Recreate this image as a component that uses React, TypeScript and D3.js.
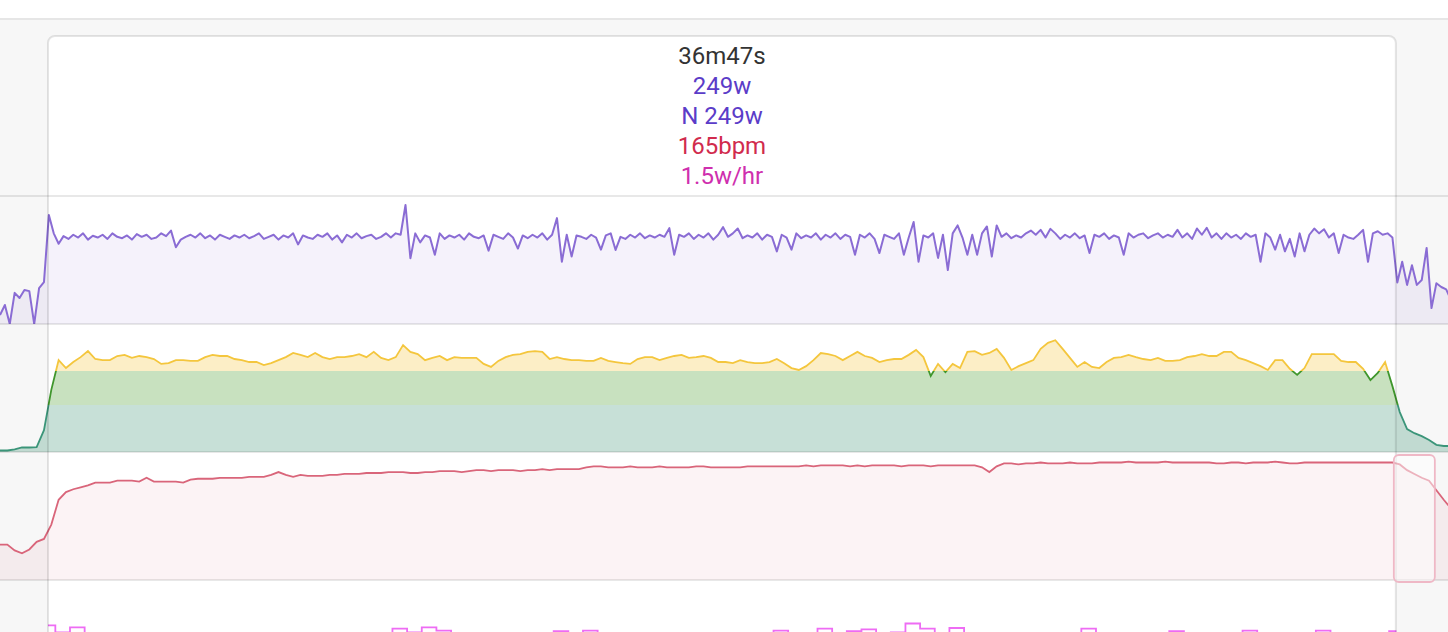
import React from "react";
import * as d3 from "d3";

const W = 1448;
const H = 632;

// time base (seconds)
const TOTAL_SECONDS = 2371;
const SEL_START = 78.6;
const SEL_DURATION = 2207; // 36m47s
const POWER_STEP = 8;
const ZONE_STEP = 12;
const HR_STEP = 12;
const DRIFT_STEP = 24;

// header
const headerLines = ["36m47s", "249w", "N 249w", "165bpm", "1.5w/hr"];
const headerColors = ["#333333", "#5b3cc8", "#5b3cc8", "#d12b4d", "#cf2fae"];

// power (w), every 8s
const powerValues = [
  26, 55, 0, 90, 75, 98, 95, 0, 104, 121,
  315, 262, 232, 254, 246, 258, 250, 262, 244, 255,
  250, 258, 246, 262, 252, 248, 256, 244, 260, 252,
  258, 246, 250, 262, 254, 270, 222, 244, 252, 258,
  250, 262, 248, 256, 244, 258, 252, 246, 256, 250,
  258, 248, 254, 262, 246, 252, 258, 244, 256, 250,
  262, 230, 256, 250, 246, 258, 252, 262, 244, 256,
  236, 258, 250, 262, 248, 254, 258, 246, 252, 262,
  250, 262, 258, 344, 190, 262, 236, 256, 250, 200,
  262, 246, 256, 250, 258, 244, 262, 252, 248, 256,
  212, 258, 252, 246, 262, 250, 218, 256, 248, 258,
  250, 262, 244, 258, 306, 180, 258, 195, 256, 252,
  246, 258, 250, 215, 256, 262, 214, 252, 246, 258,
  250, 262, 248, 256, 250, 258, 252, 277, 200, 258,
  252, 262, 246, 258, 250, 262, 244, 258, 280, 252,
  262, 276, 248, 256, 250, 262, 244, 258, 252, 210,
  258, 250, 215, 262, 248, 256, 250, 262, 244, 258,
  250, 262, 246, 258, 252, 200, 258, 250, 262, 246,
  205, 258, 252, 246, 262, 200, 250, 295, 180, 256,
  250, 262, 191, 258, 156, 262, 285, 250, 200, 258,
  200, 262, 282, 195, 285, 252, 262, 248, 256, 250,
  262, 270, 258, 272, 250, 275, 262, 246, 258, 250,
  262, 248, 256, 205, 258, 252, 262, 246, 256, 250,
  200, 262, 250, 258, 262, 248, 256, 262, 250, 258,
  252, 272, 250, 262, 246, 276, 258, 278, 250, 262,
  246, 262, 250, 258, 246, 262, 252, 258, 180, 262,
  250, 215, 258, 210, 246, 195, 262, 210, 258, 276,
  262, 274, 250, 262, 205, 258, 250, 246, 258, 272,
  180, 262, 268, 258, 262, 250, 120, 180, 113, 170,
  113, 127, 220, 46, 118, 107, 100, 69,
];

// smoothed power (w), every 12s
const zoneValues = [
  4, 4, 7, 12, 12, 13, 58, 165, 244, 223,
  239, 252, 268, 247, 244, 244, 255, 258, 250, 255,
  252, 247, 234, 236, 244, 244, 242, 242, 252, 258,
  255, 255, 247, 244, 239, 239, 231, 236, 244, 252,
  263, 258, 252, 263, 252, 247, 252, 252, 255, 260,
  252, 266, 250, 244, 252, 284, 266, 260, 244, 250,
  255, 244, 252, 250, 250, 250, 234, 226, 242, 252,
  258, 260, 266, 268, 266, 247, 252, 247, 244, 244,
  242, 242, 250, 242, 239, 236, 234, 247, 252, 252,
  244, 250, 255, 258, 250, 252, 255, 250, 239, 239,
  236, 244, 239, 236, 236, 239, 247, 236, 223, 218,
  228, 244, 263, 260, 255, 244, 255, 266, 255, 250,
  239, 244, 247, 247, 258, 271, 252, 202, 234, 212,
  234, 223, 266, 268, 258, 263, 274, 250, 218, 228,
  236, 244, 274, 290, 297, 274, 250, 226, 239, 226,
  223, 239, 250, 252, 258, 252, 247, 244, 250, 242,
  242, 244, 252, 255, 260, 255, 255, 266, 266, 250,
  244, 236, 228, 218, 244, 244, 221, 205, 223, 260,
  260, 260, 260, 242, 239, 239, 221, 191, 210, 239,
  175, 106, 61, 50, 42, 32, 19, 16, 16,
];
const zoneThresholds = [215, 125];

// heart rate (bpm), every 12s
const hrValues = [
  87, 87, 81, 78, 82, 90, 93, 108, 134, 142,
  145, 147, 149, 152, 152, 152, 154, 154, 154, 153,
  157, 153, 153, 153, 153, 152, 155, 156, 156, 156,
  157, 157, 157, 157, 158, 158, 158, 160, 163, 160,
  158, 160, 159, 159, 159, 160, 160, 161, 161, 161,
  162, 162, 162, 163, 163, 163, 162, 162, 163, 163,
  164, 164, 164, 163, 164, 165, 165, 164, 165, 165,
  165, 164, 165, 165, 166, 165, 166, 166, 166, 166,
  168, 169, 169, 168, 168, 168, 169, 168, 168, 168,
  169, 168, 168, 168, 168, 169, 169, 168, 168, 168,
  168, 168, 169, 169, 169, 169, 169, 169, 169, 169,
  170, 169, 170, 170, 170, 170, 169, 170, 169, 170,
  170, 170, 170, 169, 170, 170, 170, 169, 170, 170,
  170, 170, 170, 170, 168, 163, 169, 172, 172, 171,
  172, 172, 173, 172, 172, 172, 173, 172, 172, 172,
  173, 173, 173, 173, 174, 173, 173, 173, 173, 174,
  173, 173, 173, 173, 173, 173, 172, 172, 173, 173,
  172, 173, 173, 173, 174, 173, 172, 172, 173, 173,
  173, 173, 173, 173, 173, 173, 173, 173, 173, 173,
  173, 171, 165, 161, 157, 154, 144, 134, 125,
];

// drift (w/hr), every 24s from selection start
const driftValues = [
  6.45, 5.9, 6.3, 5.6, 5.5, 5.4, 5.5, 5.4, 5.3, 5.5,
  5.4, 5.5, 5.3, 5.4, 5.5, 5.4, 5.5, 5.3, 5.6, 5.7,
  5.5, 5.6, 5.5, 5.7, 6.2, 5.9, 6.3, 6.05, 5.6, 5.5,
  5.4, 5.6, 5.5, 5.7, 5.8, 6.0, 5.7, 6.05, 5.8, 5.5,
  5.4, 5.5, 5.6, 5.4, 5.5, 5.7, 5.5, 5.4, 5.6, 5.8,
  6.05, 5.7, 5.8, 6.2, 5.8, 6.0, 6.15, 5.8, 5.9, 6.6,
  6.2, 5.8, 6.25, 5.7, 5.5, 5.6, 5.4, 5.5, 5.7, 5.6,
  5.8, 6.2, 5.7, 5.5, 5.6, 5.7, 5.8, 6.0, 5.7, 5.6,
  5.5, 5.8, 6.05, 5.7, 5.6, 5.5, 5.8, 6.05, 5.7, 5.6,
  5.5, 5.7, 6.0,
];

const PANEL_TOPS = [196, 324, 452, 580];
const PANEL_H = 128;

export default function App() {
  const x = d3.scaleLinear().domain([0, TOTAL_SECONDS]).range([0, W]);
  const selX0 = x(SEL_START);
  const selX1 = x(SEL_START + SEL_DURATION);

  const yP = d3.scaleLinear().domain([0, 370]).range([PANEL_TOPS[0] + PANEL_H, PANEL_TOPS[0]]);
  const yZ = d3.scaleLinear().domain([0, 340]).range([PANEL_TOPS[1] + PANEL_H, PANEL_TOPS[1]]);
  const yH = d3.scaleLinear().domain([50, 184]).range([PANEL_TOPS[2] + PANEL_H, PANEL_TOPS[2]]);
  const yD = d3.scaleLinear().domain([0, 10]).range([PANEL_TOPS[3] + PANEL_H, PANEL_TOPS[3]]);

  const powerPts = powerValues.map((v, i) => [i * POWER_STEP, v] as [number, number]);
  const zonePts = zoneValues.map((v, i) => [i * ZONE_STEP, v] as [number, number]);
  const hrPts = hrValues.map((v, i) => [i * HR_STEP, v] as [number, number]);
  const driftPts = driftValues.map((v, i) => [SEL_START + i * DRIFT_STEP, v] as [number, number]);

  const pLine = d3.line<[number, number]>().x((d) => x(d[0])).y((d) => yP(d[1]))(powerPts) || "";
  const pArea = d3.area<[number, number]>().x((d) => x(d[0])).y0(yP(0)).y1((d) => yP(d[1]))(powerPts) || "";

  const zLine = d3.line<[number, number]>().x((d) => x(d[0])).y((d) => yZ(d[1]))(zonePts) || "";
  const zArea = d3.area<[number, number]>().x((d) => x(d[0])).y0(yZ(0)).y1((d) => yZ(d[1]))(zonePts) || "";

  const hLine = d3.line<[number, number]>().x((d) => x(d[0])).y((d) => yH(d[1]))(hrPts) || "";
  const hArea = d3.area<[number, number]>().x((d) => x(d[0])).y0(yH(50)).y1((d) => yH(d[1]))(hrPts) || "";

  const dLine = d3.line<[number, number]>().curve(d3.curveStep).x((d) => x(d[0])).y((d) => yD(d[1]))(driftPts) || "";

  const t1 = yZ(zoneThresholds[0]);
  const t2 = yZ(zoneThresholds[1]);
  const zBands = [
    { id: "zA", y0: PANEL_TOPS[1], y1: t1, stroke: "#f4c63d", fill: "rgba(245,200,66,0.3)" },
    { id: "zB", y0: t1, y1: t2, stroke: "#3f962c", fill: "rgba(74,154,42,0.3)" },
    { id: "zC", y0: t2, y1: PANEL_TOPS[1] + PANEL_H, stroke: "#3b9579", fill: "rgba(68,152,122,0.3)" },
  ];

  return (
    <svg
      width={W}
      height={H}
      style={{ position: "absolute", left: 0, top: 0, display: "block", fontFamily: "Roboto, 'Noto Sans', sans-serif" }}
    >
      <defs>
        {PANEL_TOPS.map((t, i) => (
          <clipPath id={`panel${i}`} key={i}>
            <rect x={0} y={t} width={W} height={PANEL_H} />
          </clipPath>
        ))}
        {zBands.map((b) => (
          <clipPath id={b.id} key={b.id}>
            <rect x={0} y={b.y0} width={W} height={b.y1 - b.y0} />
          </clipPath>
        ))}
      </defs>

      {/* background */}
      <rect x={0} y={0} width={W} height={H} fill="#f7f7f7" />
      <rect x={0} y={0} width={W} height={18} fill="#ffffff" />
      <line x1={0} x2={W} y1={19} y2={19} stroke="#e6e6e6" strokeWidth={2} />

      {/* selection */}
      <rect x={selX0} y={36} width={selX1 - selX0} height={H} rx={7} fill="#ffffff" />

      {/* power */}
      <g clipPath="url(#panel0)">
        <path d={pArea} fill="rgba(138,108,212,0.085)" />
        <path d={pLine} fill="none" stroke="#8a6cd4" strokeWidth={2} strokeLinejoin="round" />
      </g>

      {/* zones */}
      {zBands.map((b) => (
        <g key={b.id} clipPath={`url(#${b.id})`}>
          <path d={zArea} fill={b.fill} />
          <path d={zLine} fill="none" stroke={b.stroke} strokeWidth={1.8} />
        </g>
      ))}

      {/* heart rate */}
      <g clipPath="url(#panel2)">
        <path d={hArea} fill="rgba(217,101,122,0.08)" />
        <path d={hLine} fill="none" stroke="#d9657a" strokeWidth={1.8} />
      </g>

      {/* drift */}
      <g clipPath="url(#panel3)">
        <path d={dLine} fill="none" stroke="#ee6cf4" strokeWidth={1.8} />
      </g>

      {/* separators */}
      {PANEL_TOPS.map((t, i) => (
        <line key={i} x1={0} x2={W} y1={t} y2={t} stroke="rgba(0,0,0,0.09)" strokeWidth={2} />
      ))}

      {/* selection border */}
      <rect
        x={selX0}
        y={36}
        width={selX1 - selX0}
        height={H}
        rx={7}
        fill="none"
        stroke="rgba(0,0,0,0.1)"
        strokeWidth={2}
      />

      {/* hover box */}
      <rect
        x={x(SEL_START + SEL_DURATION) - 2}
        y={PANEL_TOPS[2] + 3}
        width={41}
        height={127}
        rx={5}
        fill="rgba(255,255,255,0.5)"
        stroke="#efb8c6"
        strokeWidth={1.8}
      />

      {/* header */}
      {headerLines.map((t, i) => (
        <text
          key={i}
          x={(selX0 + selX1) / 2}
          y={63.5 + i * 30}
          textAnchor="middle"
          fontSize={24}
          fill={headerColors[i]}
        >
          {t}
        </text>
      ))}
    </svg>
  );
}
